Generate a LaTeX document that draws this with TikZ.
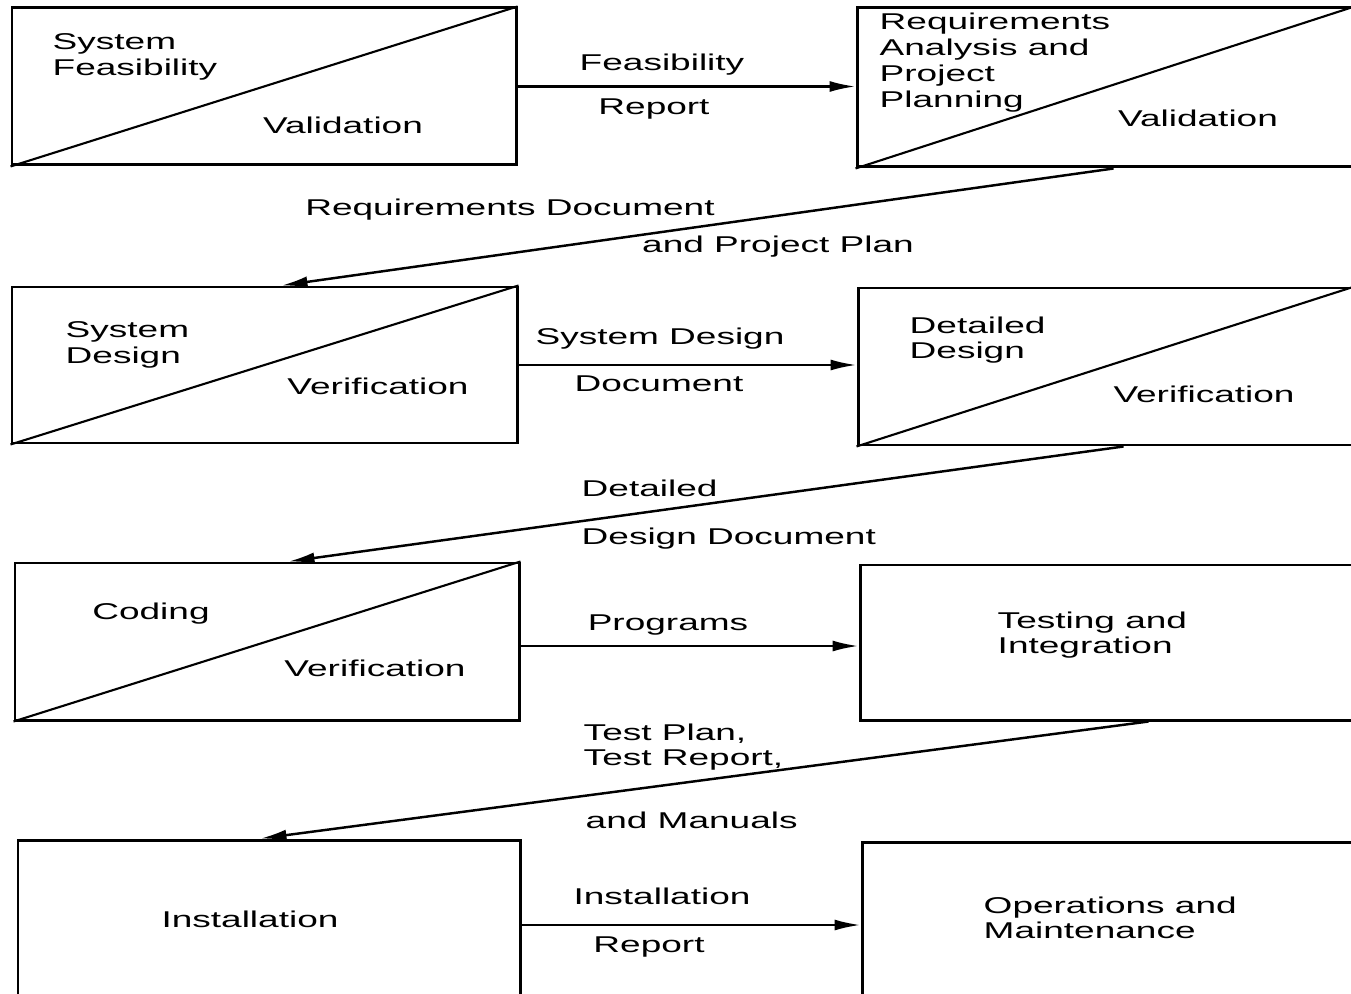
\documentclass[tikz,border=0pt]{standalone}
\usepackage{fontspec}
\setmainfont{Liberation Sans}[FakeStretch=1.62]
\usetikzlibrary{arrows.meta}

\begin{document}
\begin{tikzpicture}[x=0.1mm, y=-0.1mm,
	phase/.style={draw, line width=0.85pt, inner sep=0pt},
	cut/.style={line width=0.6pt},
	flow/.style={line width=0.7pt, -{Latex[length=2.6mm, width=1.1mm]}},
	lbl/.style={font=\fontsize{6.5}{7.2}\selectfont, inner sep=0pt},
	lbll/.style={lbl, align=left, anchor=west}]
	\useasboundingbox (0,0) rectangle (1351,993);
	\clip (0,0) rectangle (1351,993);
	%\draw[help lines] (0,0) grid[step=100] (1351,993);
	\node[phase, minimum width=50.4mm, minimum height=15.7mm] (feas) at (264,86.5) {};
	\node[phase, minimum width=49.6mm, minimum height=15.9mm] (req) at (1105,87.5) {};
	\node[phase, minimum width=50.5mm, minimum height=15.6mm] (sysd) at (264.5,365) {};
	\node[phase, minimum width=49.5mm, minimum height=15.7mm] (detd) at (1105.5,366.5) {};
	\node[phase, minimum width=50.4mm, minimum height=15.7mm] (cod) at (267,641.5) {};
	\node[phase, minimum width=49.3mm, minimum height=15.5mm] (test) at (1106.5,642.5) {};
	\node[phase, minimum width=50.2mm, minimum height=17mm] (inst) at (269,925) {};
	\node[phase, minimum width=49.1mm, minimum height=16.6mm] (ops) at (1107.5,925) {};
	\draw[cut] (feas.south west) -- (feas.north east);
	\draw[cut] (req.south west) -- (req.north east);
	\draw[cut] (sysd.south west) -- (sysd.north east);
	\draw[cut] (detd.south west) -- (detd.north east);
	\draw[cut] (cod.south west) -- (cod.north east);
	% texts in the boxes
	\node[lbll] (feast) at (52,57) {System\\Feasibility};
	\node[lbl] (feasv) at (343,125) {Validation};
	\node[lbll, font=\fontsize{6.5}{7.4}\selectfont] (reqt) at (879,63) {Requirements\\Analysis and\\Project\\Planning};
	\node[lbl] (reqv) at (1198,118) {Validation};
	\node[lbll] (sysdt) at (65,345) {System\\Design};
	\node[lbl] (sysdv) at (378,386) {Verification};
	\node[lbll] (detdt) at (909,340) {Detailed\\Design};
	\node[lbl] (detdv) at (1204,394) {Verification};
	\node[lbl] (codt) at (151,614) {Coding};
	\node[lbl] (codv) at (375,668) {Verification};
	\node[lbll] (testt) at (997,635) {Testing and\\Integration};
	\node[lbl] (instt) at (250,919) {Installation};
	\node[lbll] (opst) at (983,918) {Operations and\\Maintenance};
	% documents handed on
	\draw[flow] (feas.east) -- (feas.east -| req.west);
	\node[lbl] (fr1) at (662,65) {Feasibility};
	\node[lbl] (fr2) at (654,109) {Report};
	\draw[flow] ([xshift=25.8mm]req.south west) -- ([xshift=27.1mm]sysd.north west);
	\node[lbl] (rd1) at (510,210) {Requirements Document};
	\node[lbl] (rd2) at (778,247) {and Project Plan};
	\draw[flow] (sysd.east) -- (sysd.east -| detd.west);
	\node[lbl] (sd1) at (660,339) {System Design};
	\node[lbl] (sd2) at (659,384) {Document};
	\draw[flow] ([xshift=26.7mm]detd.south west) -- ([xshift=27.5mm]cod.north west);
	\node[lbll] (dd1) at (581,488) {Detailed};
	\node[lbll] (dd2) at (581,539) {Design Document};
	\coordinate (prgs) at ([yshift=-0.45mm]cod.east);
	\draw[flow] (prgs) -- (prgs -| test.west);
	\node[lbl] (prg) at (668,625) {Programs};
	\draw[flow] ([xshift=29mm]test.south west) -- ([xshift=24.4mm]inst.north west);
	\node[lbll] (tp1) at (583,747) {Test Plan,\\Test Report,};
	\node[lbll] (tp2) at (585,820) {and Manuals};
	\draw[flow] (inst.east) -- (inst.east -| ops.west);
	\node[lbl] (ir1) at (662,896) {Installation};
	\node[lbl] (ir2) at (649,947) {Report};
\end{tikzpicture}
\end{document}
